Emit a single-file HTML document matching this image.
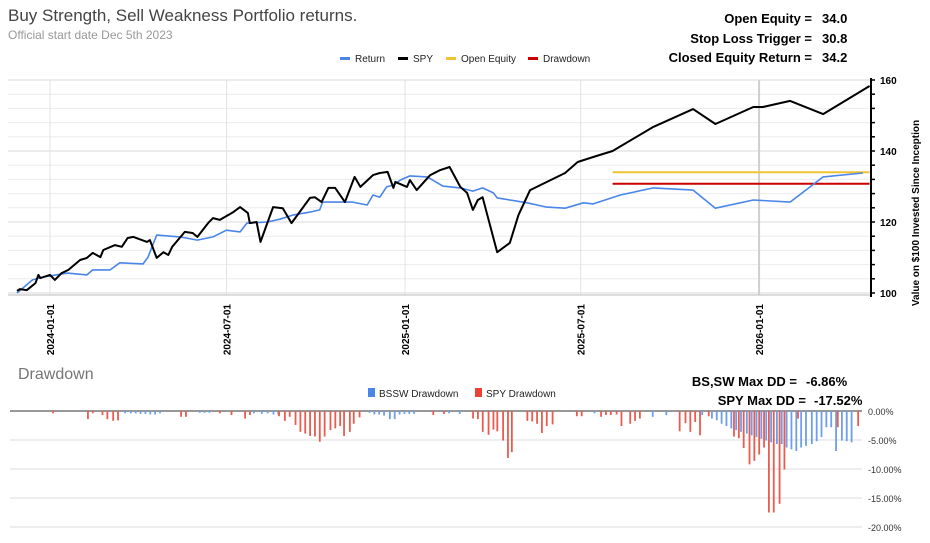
<!DOCTYPE html>
<html><head><meta charset="utf-8">
<style>
html,body{margin:0;padding:0;background:#fff;}
svg{display:block;font-family:"Liberation Sans",Arial,sans-serif;}
</style></head>
<body>
<svg id="chart" width="930" height="543" viewBox="0 0 930 543" xmlns="http://www.w3.org/2000/svg">
<text x="8" y="21" font-size="17" fill="#444">Buy Strength, Sell Weakness Portfolio returns.</text>
<text x="8" y="39" font-size="12" fill="#999">Official start date Dec 5th 2023</text>
<g font-size="13" font-weight="bold" fill="#000">
<text x="812" y="23" text-anchor="end">Open Equity =</text>
<text x="822" y="23">34.0</text>
<text x="812" y="43" text-anchor="end">Stop Loss Trigger =</text>
<text x="822" y="43">30.8</text>
<text x="812" y="62" text-anchor="end">Closed Equity Return =</text>
<text x="822" y="62">34.2</text>
</g>
<g font-size="10" fill="#222">
<g><rect x="340" y="57" width="10" height="3" fill="#4a86e8"/><text x="355" y="62">Return</text></g>
<g><rect x="398" y="57" width="10" height="3" fill="#000"/><text x="413" y="62">SPY</text></g>
<g><rect x="446" y="57" width="10" height="3" fill="#f1c232"/><text x="461" y="62">Open Equity</text></g>
<g><rect x="528" y="57" width="10" height="3" fill="#cc0000"/><text x="543" y="62">Drawdown</text></g>
</g>
<g id="main-grid"></g>
<g id="main-series"></g>
<g id="main-axes"></g>
<text transform="translate(919,213) rotate(-90)" text-anchor="middle" font-size="10" font-weight="bold">Value on $100 Invested Since Inception</text>

<text x="18" y="379" font-size="16" fill="#757575">Drawdown</text>
<g font-size="10" fill="#222">
<g><rect x="368" y="388" width="7" height="9" fill="#4a86e8"/><text x="379" y="397">BSSW Drawdown</text></g>
<g><rect x="475" y="388" width="7" height="9" fill="#ea4335"/><text x="486" y="397">SPY Drawdown</text></g>
</g>
<g font-size="13" font-weight="bold">
<text x="797" y="386" text-anchor="end">BS,SW Max DD =</text>
<text x="806" y="386">-6.86%</text>
<text x="806" y="405" text-anchor="end">SPY Max DD =</text>
<text x="814" y="405">-17.52%</text>
</g>
<g id="dd-grid"></g>
<g id="dd-bars"></g>
<g id="dd-axes"></g>
</svg>
<script>
// days since 2024-01-01
const spyDays = [-34,-31,-24,-15,-12,-10,0,5,12,19,31,38,44,52,55,67,74,80,86,100,103,110,117,122,126,139,147,152,163,168,175,189,196,204,206,213,217,230,240,249,268,273,280,287,294,304,314,320,333,340,348,354,356,368,371,378,392,402,412,423,430,436,441,446,461,474,483,495,531,544,560,580,622,663,686,725,735,763,797,845];
const spyValues = [100.6,101.1,100.8,102.8,105.1,104.2,105.1,103.7,105.6,106.5,109.3,109.9,111.3,110.1,112.1,113.5,113.0,115.5,115.8,114.4,114.9,109.9,111.5,110.7,113.0,117.2,116.9,115.8,119.7,121.1,120.6,122.8,124.2,122.5,119.7,120.0,114.4,124.2,123.9,119.7,126.8,127.0,125.6,129.6,129.6,125.6,132.7,129.9,133.2,133.8,134.1,129.6,131.3,129.9,131.8,129.0,133.2,134.6,135.5,129.9,128.2,123.4,126.2,127.0,111.5,114.1,122.0,129.0,133.8,136.9,138.3,140.0,146.8,151.8,147.6,152.4,152.4,154.1,150.4,158.3];
const returnDays = [-34,-18,-7,18,38,44,62,72,96,101,110,134,152,168,182,196,203,224,237,251,268,278,281,299,312,327,333,340,347,354,361,371,389,405,423,436,446,457,461,492,512,531,550,560,588,622,663,686,725,763,797,838];
const returnValues = [100,103.7,104.5,105.6,105.1,106.5,106.5,108.5,108.2,110.1,116.3,115.8,114.9,115.8,117.7,117.2,119.7,120.0,120.8,122.0,122.8,123.4,125.6,125.6,125.6,124.8,127.6,127.0,129.9,130.4,131.8,133.0,132.7,130.1,129.6,128.7,129.6,128.2,126.8,125.4,124.2,123.9,125.4,125.1,127.6,129.6,129.0,123.9,126.2,125.6,132.7,133.8];
const openEquityDays = [580,845];
const openEquityValues = [134.0,134.0];
const drawdownDays = [580,845];
const drawdownValues = [130.8,130.8];
const xTickLabels = ["2024-01-01","2024-07-01","2025-01-01","2025-07-01","2026-01-01"];
const xTickDays = [0,182,366,547,731];
const yTickValues = [100,120,140,160];

const spyDDDays = [2,38,43,53,58,64,69,134,139,174,186,200,205,235,241,246,252,257,262,267,272,277,282,288,293,298,302,308,312,318,394,405,435,440,445,451,456,460,466,471,475,491,496,501,506,511,517,542,547,567,572,577,583,588,597,602,607,648,654,659,664,669,678,704,709,714,720,725,730,735,740,745,751,756,770,811,832];
const spyDDValues = [0.4,1.4,0.4,0.7,1.4,1.7,1.6,1.0,1.0,0.4,0.7,1.3,0.7,0.9,1.7,1.0,2.4,3.6,3.9,4.3,4.4,5.3,4.4,3.3,3.0,2.6,4.3,3.6,2.2,1.1,0.7,0.5,1.3,1.4,3.6,4.1,3.2,3.5,5.1,8.1,7.1,1.7,1.8,2.2,3.8,2.6,2.3,0.9,0.9,1.0,0.7,0.7,0.6,2.6,2.2,1.7,1.3,3.5,2.1,3.6,1.9,4.2,0.9,4.4,4.7,6.4,9.2,8.6,7.5,6.3,17.5,17.5,16.0,10.1,1.3,2.8,2.6];
const bsswDDDays = [78,84,89,94,99,104,109,114,155,160,165,211,219,225,231,236,330,335,340,345,351,356,361,366,371,376,412,423,562,622,636,673,683,688,693,698,703,708,713,719,724,729,734,739,744,750,755,760,765,770,775,780,786,791,796,801,806,811,817,822,827];
const bsswDDValues = [0.4,0.4,0.4,0.5,0.5,0.6,0.6,0.4,0.3,0.3,0.3,0.4,0.5,0.4,0.6,0.6,0.3,0.6,0.6,0.8,1.4,1.4,0.6,0.5,0.5,0.5,0.4,0.5,0.4,1.0,0.7,0.7,1.3,1.6,2.2,2.6,3.0,3.3,3.6,3.9,4.2,4.5,4.8,5.1,5.4,5.7,5.7,6.3,6.6,6.9,6.3,6.0,5.7,5.2,4.5,2.8,2.8,6.9,5.1,5.2,5.4];
const ddTickValues = [0,-5,-10,-15,-20];

const NS = "http://www.w3.org/2000/svg";
function mk(tag, attrs, parent){const e=document.createElementNS(NS,tag);for(const k in attrs)e.setAttribute(k,attrs[k]);parent.appendChild(e);return e;}
const xScale = d => 50 + d*0.97;
const yScale = v => 293 - (v-100)*3.55;
const ddY = v => 411 - v*5.8;   // v = signed percent (negative down)
const L=8, R=871;

const grid=document.getElementById('main-grid');
for(let v=100;v<=160;v+=4){
  const l=mk('line',{x1:L,x2:R,y1:yScale(v),y2:yScale(v),stroke:(v%20===0)?'#d9d9d9':'#ececec','stroke-width':1},grid);
  
  
}
xTickDays.forEach((d,i)=>{
  const x=xScale(d);
  const l=mk('line',{x1:x,x2:x,y1:80,y2:295,stroke:i===4?'#cfcfcf':'#e3e3e3','stroke-width':i===4?2:1},grid);
  
  
  const t=mk('text',{transform:`translate(${x+4},304) rotate(-90)`,'text-anchor':'end','font-size':10,'font-weight':'bold'},grid);
  t.textContent=xTickLabels[i];
  
  
});
const base=mk('line',{x1:L,x2:R,y1:295,y2:295,stroke:'#bbb','stroke-width':1},grid);



const ser=document.getElementById('main-series');
function line(days,vals,color,w,name){
  const p=mk('polyline',{points:days.map((d,i)=>xScale(d).toFixed(1)+','+yScale(vals[i]).toFixed(1)).join(' '),fill:'none',stroke:color,'stroke-width':w,'stroke-linejoin':'round'},ser);
  
  
}
line(openEquityDays,openEquityValues,'#f1c232',2,'open-equity-line');
line(drawdownDays,drawdownValues,'#cc0000',2,'drawdown-line');
line(returnDays,returnValues,'#4a86e8',1.6,'return-line');
line(spyDays,spyValues,'#000',2,'spy-line');

const ax=document.getElementById('main-axes');
const yl=mk('line',{x1:R,x2:R,y1:78,y2:297,stroke:'#000','stroke-width':2},ax);


for(let v=100;v<=160;v+=4){
  const t=mk('line',{x1:R,x2:R+4,y1:yScale(v),y2:yScale(v),stroke:'#000','stroke-width':1.5},ax);
  
  
}
yTickValues.forEach(v=>{
  const t=mk('text',{x:880,y:yScale(v)+4,'font-size':10,'font-weight':'bold'},ax);
  t.textContent=v;
  
  
});

const dg=document.getElementById('dd-grid');
ddTickValues.forEach(v=>{
  const y=ddY(v);
  const l=mk('line',{x1:10,x2:862,y1:y,y2:y,stroke:v===0?'#777':'#ddd','stroke-width':v===0?1.5:1},dg);
  
  
  const t=mk('text',{x:868,y:y+4,'font-size':9,fill:'#333'},dg);
  t.textContent=v.toFixed(2)+'%';
  
  
});
const db=document.getElementById('dd-bars');
bsswDDDays.forEach((d,i)=>{
  const b=mk('rect',{x:xScale(d)-1.5,y:411,width:1.8,height:bsswDDValues[i]*5.8,fill:'#6d9eeb'},db);
  
  
});
spyDDDays.forEach((d,i)=>{
  const b=mk('rect',{x:xScale(d)+0.2,y:411,width:1.8,height:spyDDValues[i]*5.8,fill:'#ea5b4f'},db);
  
  
});
</script>
</body></html>
